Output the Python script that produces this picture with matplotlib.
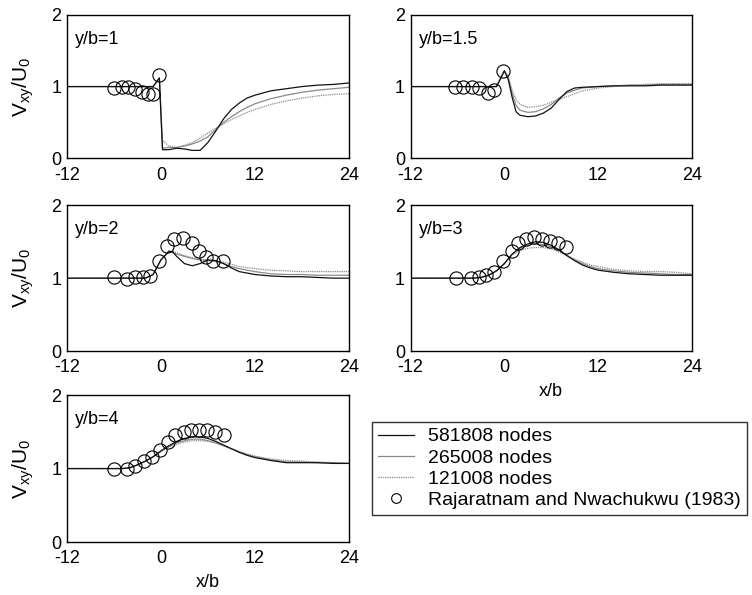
import matplotlib
matplotlib.use("Agg")
import matplotlib.pyplot as plt
from matplotlib.lines import Line2D

plt.rcParams['font.family'] = ['Liberation Sans', 'DejaVu Sans']
plt.rcParams['mathtext.fontset'] = 'custom'
plt.rcParams['mathtext.rm'] = 'Liberation Sans'
plt.rcParams['mathtext.it'] = 'Liberation Sans'
plt.rcParams['axes.unicode_minus'] = False

labels = ["581808 nodes", "265008 nodes", "121008 nodes", "Rajaratnam and Nwachukwu (1983)"]
titles = ["y/b=1", "y/b=1.5", "y/b=2", "y/b=3", "y/b=4"]

# y/b = 1
x1 = [-12, -1.0, -0.2, 0.2, 1, 2, 3, 4, 5, 6, 7, 8, 9, 10, 11, 12, 14, 16, 18, 20, 22, 24]
fine1 = [1.0, 1.0, 1.12, 0.12, 0.12, 0.14, 0.13, 0.11, 0.11, 0.22, 0.38, 0.55, 0.68, 0.77, 0.84, 0.88, 0.94, 0.97, 1.0, 1.02, 1.03, 1.05]
mid1 = [1.0, 1.0, 1.12, 0.14, 0.15, 0.15, 0.17, 0.2, 0.24, 0.3, 0.4, 0.5, 0.58, 0.65, 0.71, 0.76, 0.83, 0.88, 0.92, 0.95, 0.97, 0.99]
coarse1 = [1.0, 1.0, 1.12, 0.25, 0.17, 0.15, 0.18, 0.22, 0.28, 0.35, 0.42, 0.48, 0.54, 0.59, 0.64, 0.68, 0.75, 0.8, 0.84, 0.87, 0.89, 0.9]
ex1 = [-6.0, -5.0, -4.2, -3.3, -2.4, -1.6, -1.0, -0.2]
ey1 = [0.98, 1.0, 0.99, 0.96, 0.92, 0.89, 0.9, 1.16]

# y/b = 1.5
x2 = [-12, -2, -1, 0, 0.5, 1, 1.5, 2, 3, 4, 5, 6, 7, 8, 9, 10, 12, 14, 16, 18, 20, 24]
fine2 = [1.0, 1.0, 1.0, 1.22, 1.1, 0.85, 0.65, 0.6, 0.58, 0.59, 0.63, 0.7, 0.82, 0.93, 0.98, 0.99, 1.0, 1.01, 1.01, 1.01, 1.02, 1.02]
mid2 = [1.0, 1.0, 1.0, 1.22, 1.12, 0.9, 0.74, 0.67, 0.64, 0.65, 0.69, 0.75, 0.84, 0.91, 0.95, 0.98, 1.0, 1.01, 1.02, 1.02, 1.03, 1.03]
coarse2 = [1.0, 1.0, 1.0, 1.22, 1.14, 0.95, 0.82, 0.75, 0.71, 0.72, 0.74, 0.78, 0.82, 0.86, 0.9, 0.94, 0.98, 1.0, 1.02, 1.03, 1.04, 1.04]
ex2 = [-6.3, -5.3, -4.2, -3.2, -2.1, -1.3, -0.2]
ey2 = [1.0, 1.0, 1.0, 0.98, 0.91, 0.95, 1.22]

# y/b = 2
x3 = [-12, -2, -1, 0, 1, 1.5, 2, 3, 4, 5, 6, 7, 8, 9, 10, 12, 14, 16, 18, 20, 22, 24]
fine3 = [1.0, 1.0, 1.05, 1.25, 1.37, 1.36, 1.3, 1.2, 1.17, 1.2, 1.25, 1.24, 1.2, 1.14, 1.09, 1.05, 1.03, 1.02, 1.02, 1.01, 1.0, 1.0]
mid3 = [1.0, 1.0, 1.05, 1.25, 1.36, 1.35, 1.33, 1.3, 1.27, 1.25, 1.24, 1.23, 1.2, 1.16, 1.13, 1.09, 1.06, 1.05, 1.05, 1.04, 1.04, 1.04]
coarse3 = [1.0, 1.0, 1.05, 1.25, 1.37, 1.37, 1.35, 1.31, 1.28, 1.26, 1.25, 1.24, 1.22, 1.19, 1.16, 1.13, 1.11, 1.1, 1.09, 1.09, 1.09, 1.09]
ex3 = [-6.0, -4.3, -3.3, -2.3, -1.4, -0.2, 0.8, 1.7, 2.8, 4.0, 4.9, 5.8, 6.7, 7.9]
ey3 = [1.01, 0.99, 1.01, 1.01, 1.03, 1.23, 1.44, 1.54, 1.55, 1.48, 1.37, 1.29, 1.24, 1.23]

# y/b = 3
x4 = [-12, -4, -3, -2, -1, 0, 1, 2, 3, 4, 5, 6, 7, 8, 9, 10, 11, 12, 14, 16, 18, 20, 22, 24]
fine4 = [1.0, 1.0, 1.01, 1.04, 1.1, 1.2, 1.33, 1.42, 1.47, 1.5, 1.49, 1.45, 1.39, 1.31, 1.24, 1.18, 1.14, 1.11, 1.08, 1.06, 1.05, 1.04, 1.04, 1.04]
mid4 = [1.0, 1.0, 1.01, 1.04, 1.1, 1.2, 1.33, 1.41, 1.45, 1.47, 1.46, 1.43, 1.38, 1.31, 1.25, 1.2, 1.16, 1.13, 1.1, 1.08, 1.07, 1.06, 1.05, 1.05]
coarse4 = [1.0, 1.0, 1.01, 1.04, 1.1, 1.2, 1.32, 1.38, 1.41, 1.42, 1.42, 1.4, 1.36, 1.31, 1.26, 1.22, 1.18, 1.16, 1.12, 1.1, 1.09, 1.09, 1.08, 1.06]
ex4 = [-6.2, -4.3, -3.3, -2.4, -1.3, -0.2, 1.0, 1.8, 2.8, 3.8, 4.8, 5.9, 6.9, 7.9]
ey4 = [1.0, 1.0, 1.02, 1.04, 1.09, 1.23, 1.37, 1.48, 1.54, 1.56, 1.54, 1.51, 1.48, 1.43]

# y/b = 4
x5 = [-12, -5, -4, -3, -2, -1, 0, 1, 2, 3, 4, 5, 6, 7, 8, 9, 10, 11, 12, 14, 16, 18, 20, 22, 24]
fine5 = [1.0, 1.0, 1.01, 1.05, 1.1, 1.16, 1.24, 1.31, 1.37, 1.41, 1.43, 1.43, 1.41, 1.37, 1.32, 1.27, 1.22, 1.18, 1.15, 1.11, 1.08, 1.08, 1.08, 1.07, 1.07]
mid5 = [1.0, 1.0, 1.01, 1.05, 1.1, 1.16, 1.24, 1.3, 1.35, 1.38, 1.4, 1.4, 1.38, 1.35, 1.31, 1.27, 1.23, 1.19, 1.16, 1.12, 1.09, 1.09, 1.08, 1.08, 1.07]
coarse5 = [1.0, 1.0, 1.01, 1.05, 1.1, 1.16, 1.23, 1.29, 1.33, 1.36, 1.38, 1.38, 1.37, 1.35, 1.31, 1.27, 1.23, 1.2, 1.17, 1.13, 1.11, 1.1, 1.09, 1.08, 1.07]
ex5 = [-6.0, -4.3, -3.3, -2.1, -1.1, -0.1, 0.9, 1.8, 2.9, 3.8, 4.9, 5.9, 6.9, 8.0]
ey5 = [1.0, 1.0, 1.03, 1.1, 1.16, 1.25, 1.36, 1.45, 1.5, 1.52, 1.53, 1.52, 1.5, 1.45]

panels = [
    (x1, fine1, mid1, coarse1, ex1, ey1),
    (x2, fine2, mid2, coarse2, ex2, ey2),
    (x3, fine3, mid3, coarse3, ex3, ey3),
    (x4, fine4, mid4, coarse4, ex4, ey4),
    (x5, fine5, mid5, coarse5, ex5, ey5),
]

# axes boxes [left, bottom, width, height] in figure fraction
boxes = [
    [0.089, 0.734, 0.375, 0.241],
    [0.546, 0.734, 0.374, 0.241],
    [0.089, 0.410, 0.375, 0.245],
    [0.546, 0.410, 0.374, 0.245],
    [0.089, 0.089, 0.375, 0.247],
]

fig = plt.figure(figsize=(7.52, 5.95), dpi=100)

for i, (x, fine, mid, coarse, ex, ey) in enumerate(panels):
    ax = fig.add_axes(boxes[i])
    ax.plot(x, coarse, color='#8a8a8a', lw=0.9, ls=(0, (1, 0.8)))
    ax.plot(x, mid, color='#8a8a8a', lw=0.9)
    ax.plot(x, fine, color='#111111', lw=0.9)
    ax.plot(ex, ey, 'o', mfc='none', mec='black', mew=0.8, ms=9.5)
    ax.set_xlim(-12, 24)
    ax.set_ylim(0, 2)
    ax.set_xticks([-12, 0, 12, 24])
    ax.set_yticks([0, 1, 2])
    ax.tick_params(length=0, labelsize=13)
    ax.tick_params(axis='x', pad=6)
    ax.tick_params(axis='y', pad=4)
    for s in ax.spines.values():
        s.set_linewidth(1.0)
    ax.text(0.03, 0.80, titles[i], transform=ax.transAxes, fontsize=13)
    if i in (0, 2, 4):
        ax.set_ylabel(r'V$_{xy}$/U$_0$', fontsize=15, labelpad=11)
    if i in (3, 4):
        ax.set_xlabel('x/b', fontsize=13, labelpad=5)

handles = [
    Line2D([], [], color='#111111', lw=0.9),
    Line2D([], [], color='#8a8a8a', lw=0.9),
    Line2D([], [], color='#8a8a8a', lw=0.9, ls=(0, (1, 0.8))),
    Line2D([], [], marker='o', ls='none', mfc='none', mec='black', mew=0.8, ms=7),
]
leg = fig.legend(handles, labels, loc='upper left', bbox_to_anchor=(372 / 752, 1 - 422 / 595),
                 borderaxespad=0, fontsize=14, frameon=True, fancybox=False, edgecolor='black',
                 handlelength=1.85, handletextpad=0.75, labelspacing=0.18, borderpad=0.3)
leg.get_frame().set_linewidth(1.0)

fig.savefig('out.png', dpi=100)
